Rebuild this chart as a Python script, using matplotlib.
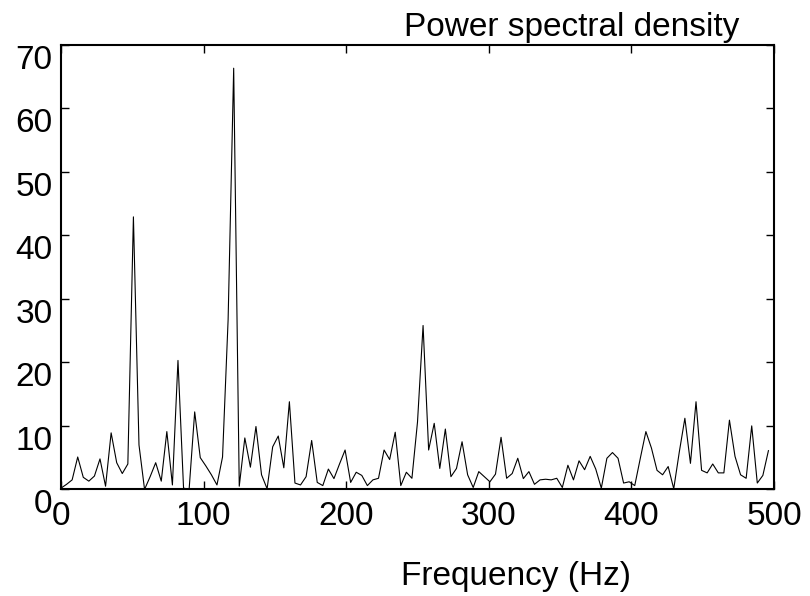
import numpy as np
import matplotlib
matplotlib.use("Agg")
import matplotlib.pyplot as plt

plt.rcParams['font.family'] = ['Liberation Sans', 'DejaVu Sans']

# PSD values, one per FFT bin (Fs = 1000, N = 256)
psd = [0.2, 0.8, 1.5, 5.1, 1.9, 1.3, 2.1, 4.8, 0.5, 8.9,
       4.2, 2.5, 4.0, 42.9, 7.0, 0.0, 2.0, 4.2, 1.3, 9.1,
       0.7, 20.3, 0.2, 0.0, 12.2, 5.0, 3.7, 2.3, 0.7, 5.1,
       26.7, 66.3, 0.5, 8.1, 3.5, 9.9, 2.3, 0.1, 6.7, 8.4,
       3.4, 13.8, 1.0, 0.7, 2.0, 7.7, 1.1, 0.6, 3.2, 1.7,
       4.0, 6.2, 1.1, 2.7, 2.2, 0.6, 1.5, 1.75, 6.2, 4.7,
       9.0, 0.6, 2.7, 1.75, 10.6, 25.8, 6.2, 10.4, 3.3, 9.5,
       2.0, 3.3, 7.5, 2.3, 0.3, 2.8, 2.0, 1.2, 2.4, 8.2,
       1.75, 2.5, 4.9, 1.7, 2.8, 0.8, 1.5, 1.6, 1.5, 1.75,
       0.3, 3.8, 1.5, 4.5, 3.1, 5.2, 3.2, 0.2, 4.9, 5.8,
       4.9, 1.0, 1.2, 0.6, 4.9, 9.1, 6.5, 3.0, 2.3, 3.6,
       0.1, 5.9, 11.2, 4.1, 13.8, 3.0, 2.6, 4.0, 2.6, 2.6,
       10.9, 5.2, 2.3, 1.75, 10.0, 1.0, 2.2, 6.1]
freq = np.arange(len(psd)) * 1000 / 256

xticks = [0, 100, 200, 300, 400, 500]
yticks = [0, 10, 20, 30, 40, 50, 60, 70]

fig = plt.figure(figsize=(8.1, 5.96), dpi=100)
ax = fig.add_axes([61/810, 1 - 489.4/596, (774 - 61)/810, (489.4 - 44.7)/596])

ax.plot(freq, psd, color='black', linewidth=0.8)
ax.set_xlim(0, 500)
ax.set_ylim(0, 70)

ax.set_xticks(xticks)
ax.set_xticklabels([str(t) for t in xticks])
ax.set_yticks(yticks)
ax.set_yticklabels([str(t) for t in yticks])
ax.tick_params(direction='in', length=6, width=1, top=True, right=True,
               labelsize=24)
ax.tick_params(axis='x', pad=8)
ax.tick_params(axis='y', pad=6)
for lab in ax.get_yticklabels():
    lab.set_va('top')

for sp in ax.spines.values():
    sp.set_linewidth(1.5)

fig.text(572/810, 1 - 36/596, 'Power spectral density', fontsize=24,
         ha='center', va='baseline')
fig.text(516/810, 1 - 576/596, 'Frequency (Hz)', fontsize=24,
         ha='center', va='center')

fig.savefig('out.png', dpi=100)
